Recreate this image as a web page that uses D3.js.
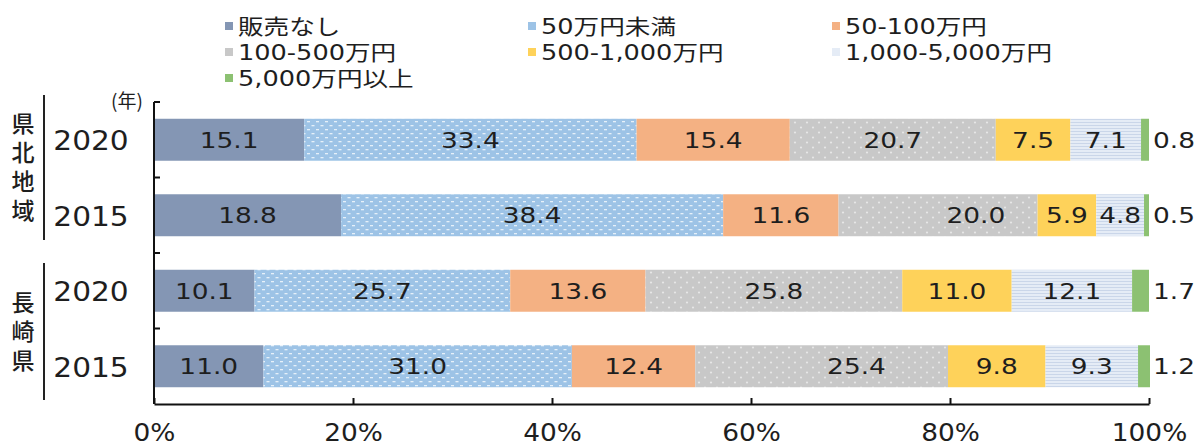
<!DOCTYPE html>
<html>
<head>
<meta charset="utf-8">
<script src="https://cdn.jsdelivr.net/npm/d3@7"></script>
<style>
  html, body { margin: 0; padding: 0; background: #fff; }
  svg { display: block; }
</style>
</head>
<body>
<svg id="chart" width="1203" height="448"></svg>
<script>
// ---- data ----
const rowKeys = ["県北2020", "県北2015", "長崎2020", "長崎2015"];
const yearLabels = ["2020", "2015", "2020", "2015"];
const groupNames = ["県北地域", "長崎県"];
const groupRows = [[0, 1], [2, 3]];
const seriesNames = ["販売なし", "50万円未満", "50-100万円", "100-500万円",
                     "500-1,000万円", "1,000-5,000万円", "5,000万円以上"];
const salesNone   = [15.1, 18.8, 10.1, 11.0];
const salesLt50   = [33.4, 38.4, 25.7, 31.0];
const sales50to100   = [15.4, 11.6, 13.6, 12.4];
const sales100to500  = [20.7, 20.0, 25.8, 25.4];
const sales500to1000 = [7.5, 5.9, 11.0, 9.8];
const sales1000to5000 = [7.1, 4.8, 12.1, 9.3];
const sales5000plus  = [0.8, 0.5, 1.7, 1.2];
const tickValues = [0, 20, 40, 60, 80, 100];

const seriesValues = [salesNone, salesLt50, sales50to100, sales100to500,
                      sales500to1000, sales1000to5000, sales5000plus];

// ---- layout / style ----
const FONT = "'DejaVu Sans', 'Noto Sans CJK JP', sans-serif";
const CJK = "'Noto Sans CJK JP', sans-serif";
const INK = "#1e1e1e";
const baseColors = ["#8496b4", "#9dc3e6", "#f4b183", "#c8c8c8", "#fed25a", "#e5ecf6", "#8cc172"];
// horizontal shift (in % units) for labels moved off the segment centre
const labelShift = { "1|3": 3.8, "3|3": 3.5 };

const svg = d3.select("#chart");
const defs = svg.append("defs");

// dotted light blue
const pBlue = defs.append("pattern").attr("id", "pat1").attr("patternUnits", "userSpaceOnUse")
  .attr("width", 9).attr("height", 8);
pBlue.append("rect").attr("width", 9).attr("height", 8).attr("fill", baseColors[1]);
pBlue.append("rect").attr("x", 1).attr("y", 1).attr("width", 3).attr("height", 1.3).attr("fill", "#fff").attr("opacity", 0.75);
pBlue.append("rect").attr("x", 5.5).attr("y", 5).attr("width", 3).attr("height", 1.3).attr("fill", "#fff").attr("opacity", 0.75);

// sparse dotted gray
const pGray = defs.append("pattern").attr("id", "pat3").attr("patternUnits", "userSpaceOnUse")
  .attr("width", 12).attr("height", 10);
pGray.append("rect").attr("width", 12).attr("height", 10).attr("fill", baseColors[3]);
pGray.append("circle").attr("cx", 3).attr("cy", 2.5).attr("r", 1.1).attr("fill", "#fff").attr("opacity", 0.55);
pGray.append("circle").attr("cx", 9).attr("cy", 7.5).attr("r", 1.1).attr("fill", "#fff").attr("opacity", 0.55);

// horizontal lines on pale blue
const pLines = defs.append("pattern").attr("id", "pat5").attr("patternUnits", "userSpaceOnUse")
  .attr("width", 6).attr("height", 3);
pLines.append("rect").attr("width", 6).attr("height", 3).attr("fill", baseColors[5]);
pLines.append("rect").attr("y", 2).attr("width", 6).attr("height", 0.8).attr("fill", "#c4d1e6");

const fills = baseColors.map((c, i) => (i === 1 ? "url(#pat1)" : i === 3 ? "url(#pat3)" : i === 5 ? "url(#pat5)" : c));

// ---- scales ----
const x = d3.scaleLinear().domain([0, 100]).range([154, 1149]);
const y = d3.scaleBand().domain(rowKeys).range([102, 404])
  .paddingInner(0.444).paddingOuter(0.222);
const gap = (y.step() - y.bandwidth()) / 2;

// ---- stacked data ----
const table = rowKeys.map((k, r) => {
  const o = { key: k, idx: r };
  seriesValues.forEach((s, i) => { o["s" + i] = s[r]; });
  return o;
});
const keys = seriesNames.map((_, i) => "s" + i);
const stacked = d3.stack().keys(keys)(table);

// helper: horizontally widened text
function wideText(sel, sx) {
  return sel.attr("transform", d => `translate(${d.tx},${d.ty}) scale(${sx},1)`);
}

// ---- bars ----
const layers = svg.append("g").selectAll("g").data(stacked).join("g")
  .attr("fill", (d, i) => fills[i]);
layers.selectAll("rect").data(d => d).join("rect")
  .attr("x", d => x(d[0]))
  .attr("y", d => y(d.data.key))
  .attr("width", d => x(d[1]) - x(d[0]))
  .attr("height", y.bandwidth());

// ---- value labels ----
const labelData = [];
stacked.forEach((layer, i) => {
  layer.forEach((d, r) => {
    const v = d.data["s" + i];
    const shift = labelShift[r + "|" + i] || 0;
    const last = i === stacked.length - 1;
    labelData.push({
      text: v.toFixed(1),
      tx: last ? x(100) + 4 : x((d[0] + d[1]) / 2 + shift),
      ty: y(d.data.key) + y.bandwidth() / 2,
      anchor: last ? "start" : "middle"
    });
  });
});
wideText(svg.append("g").selectAll("text").data(labelData).join("text")
  .attr("text-anchor", d => d.anchor)
  .attr("dy", "0.36em")
  .attr("font-family", FONT).attr("font-size", 22).attr("fill", INK)
  .text(d => d.text), 1.2);

// ---- y axis (band boundaries, ticks pointing inward) ----
const yAxis = svg.append("g").attr("stroke", "#111").attr("stroke-width", 2);
yAxis.append("line").attr("x1", x(0)).attr("x2", x(0))
  .attr("y1", y.range()[0]).attr("y2", y.range()[1]);
yAxis.selectAll("line.tick").data(rowKeys.map(k => y(k) - gap))
  .join("line").attr("class", "tick")
  .attr("x1", x(0)).attr("x2", x(0) + 6).attr("y1", d => d).attr("y2", d => d);

// ---- x axis ----
const xAxisG = svg.append("g").attr("transform", `translate(0,${y.range()[1]})`)
  .call(d3.axisBottom(x).tickValues(tickValues).tickSize(-6).tickSizeOuter(0)
    .tickFormat(d => d + "%"));
xAxisG.select(".domain").attr("stroke", "#111").attr("stroke-width", 2);
xAxisG.selectAll(".tick line").attr("stroke", "#111").attr("stroke-width", 2);
xAxisG.selectAll(".tick text")
  .attr("y", 20).attr("dy", "0.71em")
  .attr("font-family", FONT).attr("font-size", 24).attr("fill", INK)
  .attr("transform", "scale(1.1,1)");

// ---- year labels ----
wideText(svg.append("g").selectAll("text")
  .data(rowKeys.map((k, i) => ({ text: yearLabels[i], tx: 91, ty: y(k) + y.bandwidth() / 2 + 1 })))
  .join("text")
  .attr("text-anchor", "middle").attr("dy", "0.36em")
  .attr("font-family", FONT).attr("font-size", 26).attr("fill", INK)
  .text(d => d.text), 1.14);

svg.append("text").attr("x", 127).attr("y", 101).attr("dy", "0.36em")
  .attr("text-anchor", "middle")
  .attr("font-family", CJK).attr("font-size", 19).attr("fill", INK)
  .text("(年)");

// ---- group labels (vertical) with brackets ----
const groupPad = [[-7, -13], [10, -4]];
groupNames.forEach((name, g) => {
  const first = rowKeys[groupRows[g][0]];
  const last = rowKeys[groupRows[g][groupRows[g].length - 1]];
  const top = y(first) - gap + groupPad[g][0];
  const bot = y(last) + y.bandwidth() + gap + groupPad[g][1];
  svg.append("line").attr("x1", 44).attr("x2", 44).attr("y1", top).attr("y2", bot)
    .attr("stroke", "#222").attr("stroke-width", 2);
  const mid = (top + bot) / 2 + (g === 0 ? 2 : 3);
  svg.append("text")
    .attr("x", 23).attr("y", mid)
    .attr("writing-mode", "vertical-rl")
    .attr("text-anchor", "middle")
    .attr("letter-spacing", 6)
    .attr("font-family", CJK).attr("font-size", 23).attr("font-weight", 500).attr("fill", INK)
    .text(name);
});

// ---- legend ----
const legendCols = [225, 528, 832];
const legendRows = [26, 52, 78];
const legend = svg.append("g");
seriesNames.forEach((name, i) => {
  const cx = legendCols[i % 3];
  const cy = legendRows[Math.floor(i / 3)];
  legend.append("rect").attr("x", cx).attr("y", cy - 4).attr("width", 8).attr("height", 8)
    .attr("fill", baseColors[i]);
  legend.append("text")
    .attr("transform", `translate(${cx + 13},${cy}) scale(1.22,1)`)
    .attr("dy", "0.36em")
    .attr("font-family", FONT).attr("font-size", 21).attr("fill", INK)
    .text(name);
});
</script>
</body>
</html>
